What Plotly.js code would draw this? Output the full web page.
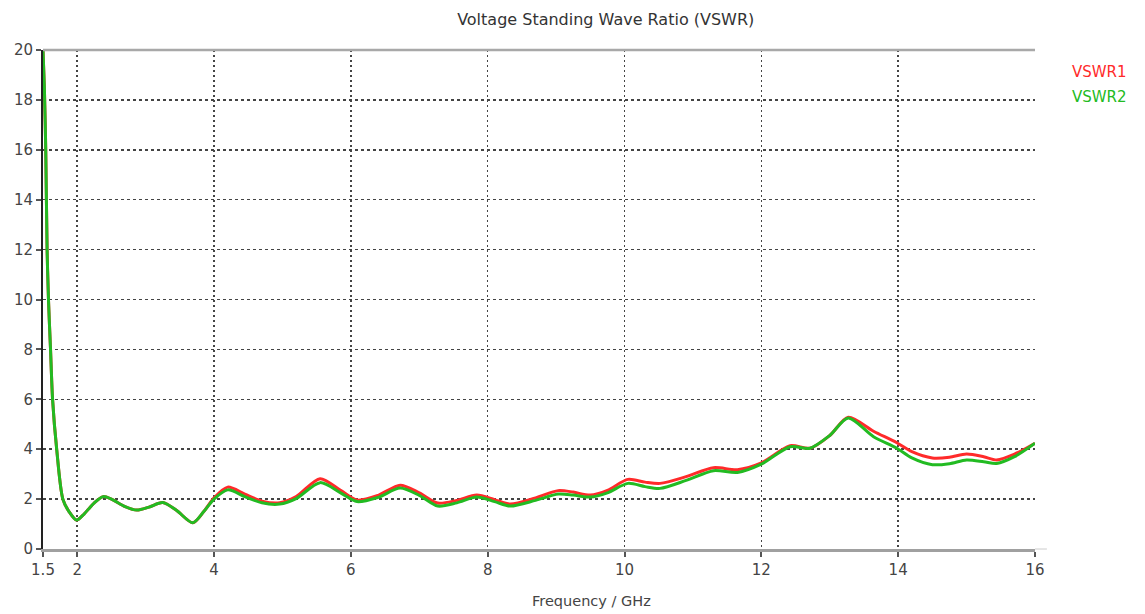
<!DOCTYPE html>
<html>
<head>
<meta charset="utf-8">
<script src="https://cdn.plot.ly/plotly-3.0.1.min.js"></script>
<style>html,body{margin:0;padding:0;background:#fff;}#chart{width:1145px;height:614px;}</style>
</head>
<body>
<div id="chart"></div>
<script>
const freq = [1.5, 1.52, 1.54, 1.56, 1.58, 1.61, 1.64, 1.70, 1.79, 1.88, 1.99, 2.1, 2.25, 2.38, 2.5, 2.7, 2.87, 3.05, 3.25, 3.45, 3.69, 3.85, 4.0, 4.2, 4.45, 4.7, 4.96, 5.2, 5.55, 5.85, 6.09, 6.4, 6.72, 7.0, 7.27, 7.55, 7.84, 8.1, 8.33, 8.7, 9.03, 9.25, 9.5, 9.75, 10.05, 10.3, 10.52, 10.9, 11.3, 11.65, 12.0, 12.42, 12.71, 13.0, 13.27, 13.64, 13.98, 14.2, 14.5, 14.75, 15.0, 15.25, 15.44, 15.7, 16.0];

const vswr1 = [20, 18.5, 16, 12, 10, 8, 6, 4, 2, 1.5, 1.16, 1.4, 1.85, 2.1, 2.0, 1.7, 1.56, 1.68, 1.86, 1.55, 1.05, 1.5, 2.05, 2.48, 2.2, 1.92, 1.85, 2.1, 2.82, 2.35, 1.96, 2.15, 2.56, 2.25, 1.84, 1.95, 2.16, 1.98, 1.8, 2.05, 2.34, 2.28, 2.16, 2.35, 2.79, 2.68, 2.63, 2.9, 3.26, 3.18, 3.45, 4.14, 4.04, 4.55, 5.28, 4.72, 4.26, 3.9, 3.65, 3.68, 3.81, 3.7, 3.57, 3.8, 4.24];

const vswr2 = [20, 18.5, 16, 12, 10, 8, 6, 4, 2, 1.5, 1.16, 1.4, 1.85, 2.1, 2.0, 1.7, 1.56, 1.68, 1.86, 1.55, 1.05, 1.5, 2.0, 2.37, 2.1, 1.85, 1.8, 2.02, 2.66, 2.25, 1.9, 2.07, 2.44, 2.15, 1.72, 1.85, 2.08, 1.9, 1.72, 1.95, 2.2, 2.16, 2.08, 2.25, 2.63, 2.5, 2.43, 2.75, 3.14, 3.07, 3.4, 4.1, 4.04, 4.55, 5.25, 4.5, 4.04, 3.65, 3.38, 3.42, 3.57, 3.5, 3.43, 3.7, 4.24];

const xTicks = [1.5, 2, 4, 6, 8, 10, 12, 14, 16];
const xTickText = ['1.5', '2', '4', '6', '8', '10', '12', '14', '16'];
const seriesNames = ['VSWR1', 'VSWR2'];
const seriesColors = ['#ff2a2a', '#22bb22'];
const chartTitle = 'Voltage Standing Wave Ratio (VSWR)';
const xTitle = 'Frequency / GHz';

const fontFam = 'Verdana, "DejaVu Sans", sans-serif';

const traces = [vswr1, vswr2].map((v, i) => ({
  x: freq, y: v, type: 'scatter', mode: 'lines', name: seriesNames[i],
  line: {color: seriesColors[i], width: 3, shape: 'spline', smoothing: 0.8},
  showlegend: false, hoverinfo: 'skip'
}));

const annotations = seriesNames.map((n, i) => ({
  text: n, xref: 'paper', yref: 'paper', x: 1.035, y: 0.955 - i * 0.05,
  xanchor: 'left', yanchor: 'middle', showarrow: false,
  font: {family: fontFam, size: 15, color: seriesColors[i]}
}));
annotations.push({
  text: xTitle, xref: 'paper', yref: 'paper', x: 0.553, y: -0.104,
  xanchor: 'center', yanchor: 'middle', showarrow: false,
  font: {family: fontFam, size: 14.5, color: '#444'}
});

const layout = {
  width: 1145, height: 614,
  margin: {l: 43, r: 110, t: 50, b: 65},
  paper_bgcolor: '#fff', plot_bgcolor: '#fff',
  title: {text: chartTitle, x: 0.529, xanchor: 'center', y: 0.968, yanchor: 'middle',
          font: {family: fontFam, size: 16, color: '#333'}},
  xaxis: {
    range: [1.5, 16], tickvals: xTicks, ticktext: xTickText,
    showgrid: true, gridcolor: '#444', gridwidth: 1.5, griddash: '2px,3px',
    showline: true, linecolor: '#a0a0a0', linewidth: 3,
    ticks: 'outside', ticklen: 5, tickcolor: '#555', tickwidth: 2,
    tickfont: {family: fontFam, size: 15, color: '#444'},
    zeroline: false
  },
  yaxis: {
    range: [0, 20], dtick: 2, tick0: 0,
    showgrid: true, gridcolor: '#444', gridwidth: 1.5, griddash: '3px,3px',
    showline: true, linecolor: '#222', linewidth: 2,
    ticks: 'outside', ticklen: 5, tickcolor: '#555', tickwidth: 2,
    tickfont: {family: fontFam, size: 15, color: '#444'},
    zeroline: false
  },
  shapes: [
    {type: 'line', xref: 'paper', yref: 'paper', x0: 0, x1: 1, y0: 1, y1: 1,
     line: {color: '#a8a8a8', width: 2.5}},
    {type: 'line', xref: 'paper', yref: 'paper', x0: 1, x1: 1.012, y0: 0, y1: 0,
     line: {color: '#cccccc', width: 1}}
  ],
  annotations: annotations
};

Plotly.newPlot('chart', traces, layout, {staticPlot: true, displayModeBar: false});
</script>
</body>
</html>
